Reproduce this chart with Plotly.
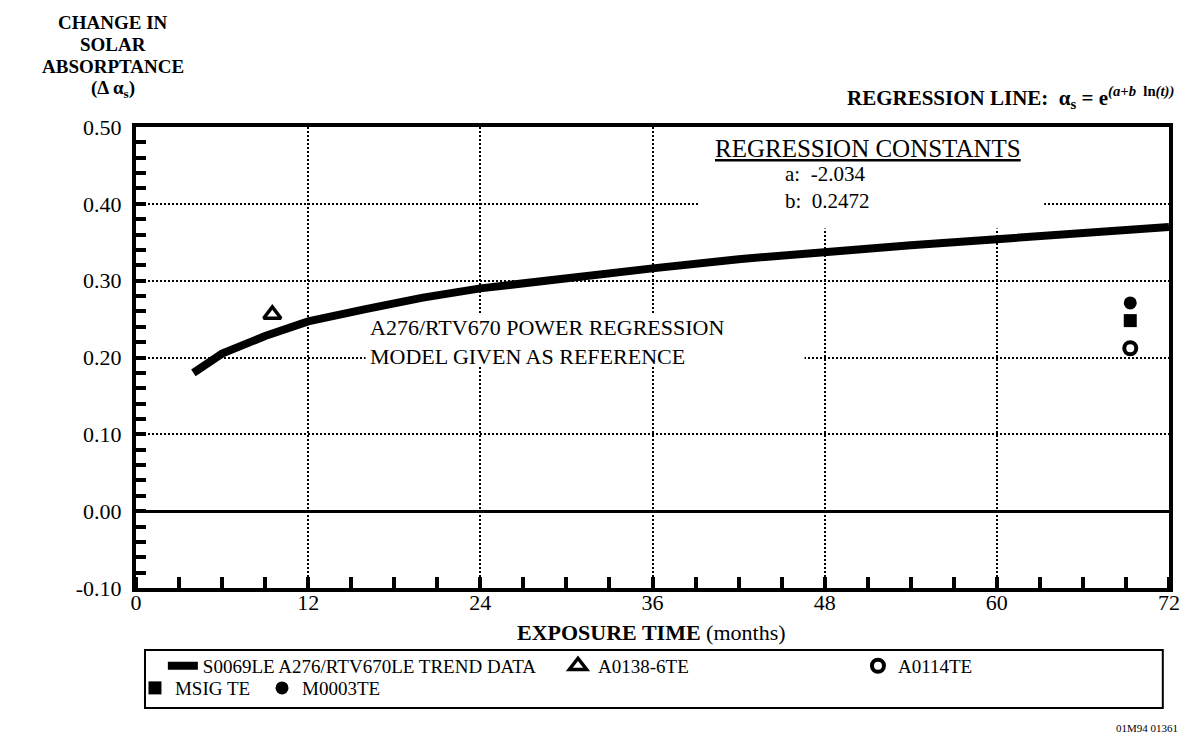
import plotly.graph_objects as go

# trend curve (months, change in solar absorptance)
trend_months = [4, 6, 9, 12, 16, 20, 24, 30, 36, 42, 48, 54, 60, 66, 72]
trend_delta = [0.180, 0.205, 0.228, 0.247, 0.263, 0.278, 0.290, 0.304, 0.316, 0.328, 0.338, 0.346, 0.354, 0.362, 0.370]

# single flight samples
a0138_months = [9.5]
a0138_delta = [0.256]
a0114_months = [69.3]
a0114_delta = [0.212]
msig_months = [69.3]
msig_delta = [0.248]
m0003_months = [69.3]
m0003_delta = [0.271]

x_ticks = [0, 12, 24, 36, 48, 60, 72]
y_ticks = [-0.1, 0.0, 0.1, 0.2, 0.3, 0.4, 0.5]
y_tick_text = ['-0.10', '0.00', '0.10', '0.20', '0.30', '0.40', '0.50']

title_lines = ['CHANGE IN', 'SOLAR', 'ABSORPTANCE', '(Δ α<sub>s</sub>)']

SERIF = 'Liberation Serif, Times New Roman, serif'

fig = go.Figure()

fig.add_trace(go.Scatter(x=trend_months, y=trend_delta, mode='lines',
                         name='S0069LE A276/RTV670LE TREND DATA',
                         line=dict(color='black', width=8), legend='legend'))
fig.add_trace(go.Scatter(x=a0138_months, y=a0138_delta, mode='markers', name='A0138-6TE',
                         marker=dict(symbol='triangle-up-open', size=15, color='black',
                                     line=dict(width=3.5, color='black')), legend='legend2'))
fig.add_trace(go.Scatter(x=a0114_months, y=a0114_delta, mode='markers', name='A0114TE',
                         marker=dict(symbol='circle-open', size=12, color='black',
                                     line=dict(width=4, color='black')), legend='legend3'))
fig.add_trace(go.Scatter(x=msig_months, y=msig_delta, mode='markers', name='MSIG TE',
                         marker=dict(symbol='square', size=13, color='black'), legend='legend4'))
fig.add_trace(go.Scatter(x=m0003_months, y=m0003_delta, mode='markers', name='M0003TE',
                         marker=dict(symbol='circle', size=13, color='black'), legend='legend5'))

# one legend per entry so the entries sit where the original box has them
leg = dict(orientation='h', xanchor='left', yanchor='middle', bgcolor='rgba(0,0,0,0)',
           borderwidth=0, font=dict(family=SERIF, size=19, color='black'))
legend_pos = {'legend': (0.026, -0.169), 'legend2': (0.4085, -0.169), 'legend3': (0.6989, -0.169),
              'legend4': (-0.001, -0.217), 'legend5': (0.122, -0.217)}
for key, (lx, ly) in legend_pos.items():
    fig.update_layout({key: dict(leg, x=lx, y=ly)})

# page body has an 8px margin, so the figure is 8px smaller than the window
fig.update_layout(
    width=1190,
    height=730,
    autosize=False,
    margin=dict(l=128, r=29, t=119, b=150),
    paper_bgcolor='white',
    plot_bgcolor='white',
    font=dict(family=SERIF, size=18, color='black'),
    showlegend=True,
)

fig.update_xaxes(
    range=[0, 72], tickmode='array', tickvals=x_ticks,
    showgrid=True, gridcolor='black', gridwidth=2, griddash='2px,2px',
    ticks='', showline=True, linecolor='black', linewidth=4, mirror=True,
    zeroline=False, tickfont=dict(family=SERIF, size=22), ticklabelstandoff=-8,
    minor=dict(dtick=3, ticks='inside', ticklen=11, tickwidth=4, tickcolor='black', showgrid=False),
)
fig.update_yaxes(
    range=[-0.1, 0.5], tickmode='array', tickvals=y_ticks, ticktext=y_tick_text,
    showgrid=True, gridcolor='black', gridwidth=2, griddash='2px,2px',
    ticks='inside', ticklen=10, tickwidth=4, tickcolor='black',
    showline=True, linecolor='black', linewidth=4, mirror=True,
    zeroline=True, zerolinecolor='black', zerolinewidth=3,
    tickfont=dict(family=SERIF, size=22), ticklabelstandoff=6,
    minor=dict(dtick=0.02, ticks='inside', ticklen=10, tickwidth=4, tickcolor='black', showgrid=False),
)

# white patches behind the text blocks (grid is broken there in the original)
fig.add_shape(type='rect', xref='x', yref='y', x0=39.3, x1=63.3, y0=0.368, y1=0.5,
              fillcolor='white', line_width=0, layer='between')
fig.add_shape(type='rect', xref='x', yref='y', x0=16.0, x1=46.6, y0=0.19, y1=0.258,
              fillcolor='white', line_width=0, layer='between')
# legend frame
fig.add_shape(type='rect', xref='paper', yref='paper', x0=0.0087, x1=0.994, y0=-0.2603, y1=-0.1345,
              line=dict(color='black', width=2), fillcolor='rgba(0,0,0,0)')

# y-axis title, one annotation per line to keep the tight line spacing
for line, ty in zip(title_lines, [1.2256, 1.1779, 1.1302, 1.0824]):
    fig.add_annotation(text='<b>' + line + '</b>', xref='paper', yref='paper', x=-0.0225, y=ty,
                       xanchor='center', yanchor='middle', showarrow=False, borderpad=0,
                       font=dict(family=SERIF, size=19))

fig.add_annotation(text='<b>REGRESSION LINE:  α<sub>s</sub> = e<sup><i>(a+b</i>  ln<i>(t))</i></sup></b>',
                   xref='paper', yref='paper', x=1.0068, y=1.063, xanchor='right', yanchor='middle',
                   showarrow=False, font=dict(family=SERIF, size=21))
fig.add_annotation(text='<u>REGRESSION CONSTANTS</u>',
                   xref='paper', yref='paper', x=0.7086, y=0.9544, xanchor='center', yanchor='middle',
                   showarrow=False, font=dict(family=SERIF, size=25))
fig.add_annotation(text='a:\u00a0\u00a0-2.034<br>b:\u00a0\u00a00.2472',
                   xref='paper', yref='paper', x=0.6263, y=0.8677, xanchor='left', yanchor='middle',
                   align='left', showarrow=False, font=dict(family=SERIF, size=21))
fig.add_annotation(text='A276/RTV670 POWER REGRESSION<br>MODEL GIVEN AS REFERENCE',
                   xref='paper', yref='paper', x=0.2246, y=0.5336, xanchor='left', yanchor='middle',
                   align='left', showarrow=False, font=dict(family=SERIF, size=22))
fig.add_annotation(text='<b>EXPOSURE TIME</b> (months)',
                   xref='paper', yref='paper', x=0.4995, y=-0.0976, xanchor='center', yanchor='middle',
                   showarrow=False, font=dict(family=SERIF, size=22))
fig.add_annotation(text='01M94 01361',
                   xref='paper', yref='paper', x=1.0106, y=-0.3037, xanchor='right', yanchor='middle',
                   showarrow=False, font=dict(family=SERIF, size=11))

fig.write_html("out.html")
